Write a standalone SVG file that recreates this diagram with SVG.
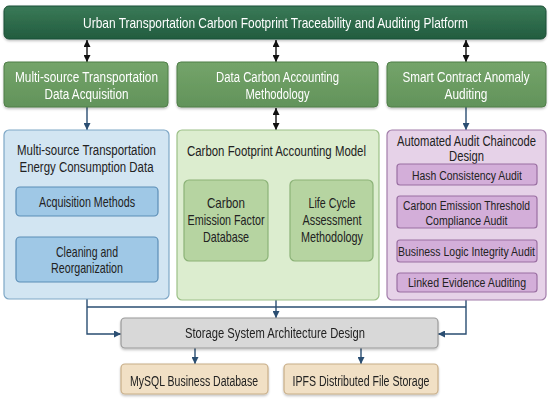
<svg xmlns="http://www.w3.org/2000/svg" width="550" height="400" viewBox="0 0 550 400">
<defs>
<style>
text{font-family:"Liberation Sans",Arial,sans-serif;text-anchor:middle;fill:#222}
.w{fill:#ffffff}
.hdr{fill:url(#gTop);stroke:#1c4f36;stroke-width:1}
.row{fill:url(#gRow);stroke:#4f7f48;stroke-width:1}
.blueO{fill:#d2e5f2;stroke:#7ea7c6;stroke-width:1.2}
.blueI{fill:#9fc8e6;stroke:#5b8db6;stroke-width:1.2}
.grnO{fill:#dcedcf;stroke:#9cc087;stroke-width:1.2}
.grnI{fill:#b6d4a1;stroke:#8bb277;stroke-width:1.2}
.purO{fill:#e6d2e8;stroke:#a27daa;stroke-width:1.2}
.purI{fill:#d3aed9;stroke:#9a6fa2;stroke-width:1.2}
.sto{fill:#d8d8d8;stroke:#9a9a9a;stroke-width:1.2}
.tan{fill:#f1e0c5;stroke:#c8ae88;stroke-width:1.2}
.c{fill:none;stroke:#2a4e72;stroke-width:1.4}
.k{fill:none;stroke:#111;stroke-width:1.4}
.sh{filter:url(#shadow)}
</style>
<linearGradient id="gTop" x1="0" y1="0" x2="0" y2="1">
<stop offset="0" stop-color="#3a7a57"/><stop offset="1" stop-color="#225c3f"/>
</linearGradient>
<linearGradient id="gRow" x1="0" y1="0" x2="0" y2="1">
<stop offset="0" stop-color="#74a46a"/><stop offset="1" stop-color="#62935a"/>
</linearGradient>
<filter id="shadow" x="-10%" y="-20%" width="120%" height="150%">
<feDropShadow dx="0" dy="1.5" stdDeviation="1.2" flood-color="#000" flood-opacity="0.25"/>
</filter>
<marker id="ab" viewBox="0 0 10 10" refX="10" refY="5" markerWidth="7" markerHeight="7" markerUnits="userSpaceOnUse" orient="auto-start-reverse">
<path d="M0,0 L10,5 L0,10 z" fill="#2a4e72"/>
</marker>
<marker id="ak" viewBox="0 0 10 10" refX="10" refY="5" markerWidth="7" markerHeight="7" markerUnits="userSpaceOnUse" orient="auto-start-reverse">
<path d="M0,0 L10,5 L0,10 z" fill="#111"/>
</marker>
</defs>
<rect width="550" height="400" fill="#ffffff"/>

<g id="connectors">
<path class="k" d="M87 40 V62" marker-start="url(#ak)" marker-end="url(#ak)"/>
<path class="k" d="M276 40 V62" marker-start="url(#ak)" marker-end="url(#ak)"/>
<path class="k" d="M466 40 V62" marker-start="url(#ak)" marker-end="url(#ak)"/>
<path class="c" d="M87 107 V130" marker-end="url(#ab)"/>
<path class="k" d="M276 108 V130" marker-start="url(#ak)" marker-end="url(#ak)"/>
<path class="c" d="M466 107 V130" marker-end="url(#ab)"/>
<path class="c" d="M87 216 V237" marker-end="url(#ab)"/>
<path class="c" d="M269 222 H289" marker-start="url(#ab)" marker-end="url(#ab)"/>
<path class="c" d="M466 185 V196" marker-end="url(#ab)"/>
<path class="c" d="M466 228 V240" marker-end="url(#ab)"/>
<path class="c" d="M466 262 V273" marker-end="url(#ab)"/>
<path class="c" d="M87 307 H466"/>
<path class="c" d="M87 299 V334 H121" marker-end="url(#ab)"/>
<path class="c" d="M466 300 V334 H438" marker-end="url(#ab)"/>
<path class="c" d="M276 300 V318" marker-end="url(#ab)"/>
<path class="c" d="M195 348 V364" marker-end="url(#ab)"/>
<path class="c" d="M361 348 V364" marker-end="url(#ab)"/>
</g>

<g id="platform" class="sh">
<rect class="hdr" x="4" y="6" width="542" height="33" rx="5"/>
<text class="w" transform="translate(275.5,28) scale(0.8,1)" font-size="14.5" textLength="481" lengthAdjust="spacingAndGlyphs">Urban Transportation Carbon Footprint Traceability and Auditing Platform</text>
</g>

<g id="acq" class="sh">
<rect class="row" x="4" y="62" width="164" height="45" rx="4"/>
<text class="w" transform="translate(86.5,82) scale(0.8,1)" font-size="15" textLength="178.7" lengthAdjust="spacingAndGlyphs">Multi-source Transportation</text>
<text class="w" transform="translate(86.5,99) scale(0.8,1)" font-size="15" textLength="105" lengthAdjust="spacingAndGlyphs">Data Acquisition</text>
</g>

<g id="method" class="sh">
<rect class="row" x="177" y="62" width="201" height="45" rx="4"/>
<text class="w" transform="translate(277.5,82) scale(0.8,1)" font-size="15" textLength="153.7" lengthAdjust="spacingAndGlyphs">Data Carbon Accounting</text>
<text class="w" transform="translate(277.5,99) scale(0.8,1)" font-size="15" textLength="80" lengthAdjust="spacingAndGlyphs">Methodology</text>
</g>

<g id="anomaly" class="sh">
<rect class="row" x="387" y="62" width="159" height="45" rx="4"/>
<text class="w" transform="translate(466,82) scale(0.8,1)" font-size="15" textLength="158.7" lengthAdjust="spacingAndGlyphs">Smart Contract Anomaly</text>
<text class="w" transform="translate(466,99) scale(0.8,1)" font-size="15" textLength="53.7" lengthAdjust="spacingAndGlyphs">Auditing</text>
</g>

<g id="energy">
<rect class="blueO" x="4" y="130" width="165" height="169" rx="5"/>
<text transform="translate(86.5,155) scale(0.8,1)" font-size="15.5" textLength="173.7" lengthAdjust="spacingAndGlyphs">Multi-source Transportation</text>
<text transform="translate(86.5,172) scale(0.8,1)" font-size="15.5" textLength="167.5" lengthAdjust="spacingAndGlyphs">Energy Consumption Data</text>
</g>
<g id="acqmethods">
<rect class="blueI" x="16" y="187" width="142" height="29" rx="4"/>
<text transform="translate(87,207) scale(0.8,1)" font-size="14" textLength="120" lengthAdjust="spacingAndGlyphs">Acquisition Methods</text>
</g>
<g id="cleaning">
<rect class="blueI" x="16" y="237" width="142" height="45" rx="4"/>
<text transform="translate(87,257) scale(0.8,1)" font-size="14" textLength="77.5" lengthAdjust="spacingAndGlyphs">Cleaning and</text>
<text transform="translate(87,273) scale(0.8,1)" font-size="14" textLength="90" lengthAdjust="spacingAndGlyphs">Reorganization</text>
</g>

<g id="cfmodel">
<rect class="grnO" x="177" y="130" width="202" height="170" rx="5"/>
<text transform="translate(276.5,156) scale(0.8,1)" font-size="15" textLength="223.7" lengthAdjust="spacingAndGlyphs">Carbon Footprint Accounting Model</text>
</g>
<g id="factor">
<rect class="grnI" x="184" y="180" width="84" height="81" rx="5"/>
<text transform="translate(226,208) scale(0.8,1)" font-size="14" textLength="47.5" lengthAdjust="spacingAndGlyphs">Carbon</text>
<text transform="translate(226,225) scale(0.8,1)" font-size="14" textLength="96.2" lengthAdjust="spacingAndGlyphs">Emission Factor</text>
<text transform="translate(226,242) scale(0.8,1)" font-size="14" textLength="57.5" lengthAdjust="spacingAndGlyphs">Database</text>
</g>
<g id="lca">
<rect class="grnI" x="290" y="180" width="83" height="81" rx="5"/>
<text transform="translate(332,208) scale(0.8,1)" font-size="14" textLength="58.7" lengthAdjust="spacingAndGlyphs">Life Cycle</text>
<text transform="translate(332,225) scale(0.8,1)" font-size="14" textLength="73.7" lengthAdjust="spacingAndGlyphs">Assessment</text>
<text transform="translate(332,242) scale(0.8,1)" font-size="14" textLength="77.5" lengthAdjust="spacingAndGlyphs">Methodology</text>
</g>

<g id="chaincode">
<rect class="purO" x="387" y="130" width="159" height="170" rx="5"/>
<text transform="translate(466.5,146) scale(0.8,1)" font-size="15" textLength="173.7" lengthAdjust="spacingAndGlyphs">Automated Audit Chaincode</text>
<text transform="translate(466.5,161) scale(0.8,1)" font-size="15" textLength="43.7" lengthAdjust="spacingAndGlyphs">Design</text>
</g>
<g id="hash">
<rect class="purI" x="397" y="164" width="140" height="21" rx="3"/>
<text transform="translate(467,180) scale(0.8,1)" font-size="13.5" textLength="137.5" lengthAdjust="spacingAndGlyphs">Hash Consistency Audit</text>
</g>
<g id="threshold">
<rect class="purI" x="397" y="196" width="140" height="32" rx="3"/>
<text transform="translate(466.5,210) scale(0.8,1)" font-size="13.5" textLength="158.7" lengthAdjust="spacingAndGlyphs">Carbon Emission Threshold</text>
<text transform="translate(466.5,225) scale(0.8,1)" font-size="13.5" textLength="102.5" lengthAdjust="spacingAndGlyphs">Compliance Audit</text>
</g>
<g id="logic">
<rect class="purI" x="397" y="240" width="140" height="22" rx="3"/>
<text transform="translate(466.5,256) scale(0.8,1)" font-size="13.5" textLength="171.2" lengthAdjust="spacingAndGlyphs">Business Logic Integrity Audit</text>
</g>
<g id="linked">
<rect class="purI" x="397" y="273" width="140" height="19" rx="3"/>
<text transform="translate(467,287) scale(0.8,1)" font-size="13.5" textLength="147.5" lengthAdjust="spacingAndGlyphs">Linked Evidence Auditing</text>
</g>

<g id="storage" class="sh">
<rect class="sto" x="121" y="318" width="317" height="30" rx="4"/>
<text transform="translate(275,338) scale(0.8,1)" font-size="15" textLength="225" lengthAdjust="spacingAndGlyphs">Storage System Architecture Design</text>
</g>
<g id="mysql" class="sh">
<rect class="tan" x="121" y="364" width="147" height="30" rx="4"/>
<text transform="translate(194,386) scale(0.8,1)" font-size="15" textLength="160" lengthAdjust="spacingAndGlyphs">MySQL Business Database</text>
</g>
<g id="ipfs" class="sh">
<rect class="tan" x="284" y="364" width="154" height="30" rx="4"/>
<text transform="translate(361,386) scale(0.8,1)" font-size="15" textLength="171.2" lengthAdjust="spacingAndGlyphs">IPFS Distributed File Storage</text>
</g>
</svg>
